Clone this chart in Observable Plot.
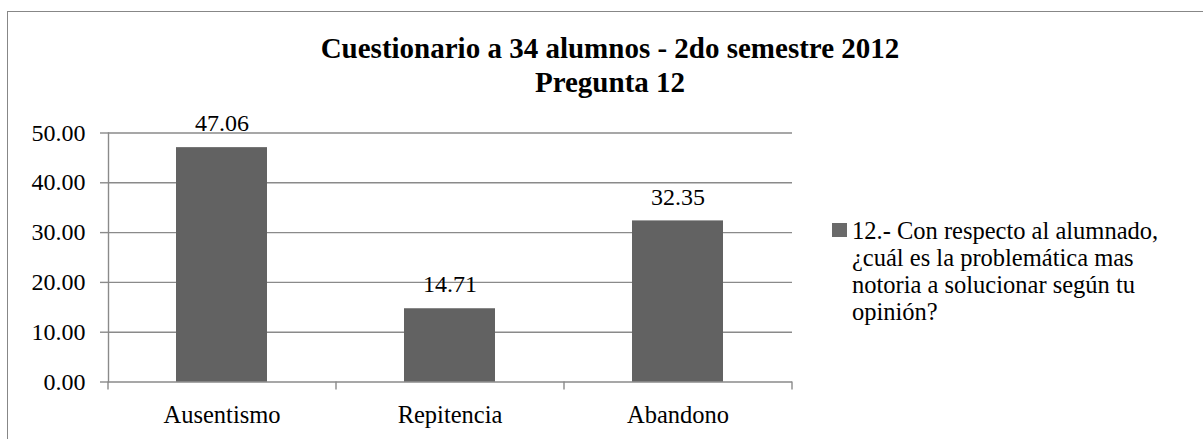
<!DOCTYPE html>
<html>
<head>
<meta charset="utf-8">
<script src="https://cdn.jsdelivr.net/npm/d3@7"></script>
<script src="https://cdn.jsdelivr.net/npm/@observablehq/plot@0.6"></script>
<style>
  html, body { margin: 0; padding: 0; background: #fff; overflow: hidden; }
  #wrap { position: relative; width: 1203px; height: 439px; overflow: hidden; font-family: "Times New Roman", Times, "Liberation Serif", "DejaVu Serif", serif, "Liberation Sans", Arial, sans-serif; color: #000; }
  #border { position: absolute; left: 7px; top: 11px; width: 1400px; height: 600px; border-top: 1.5px solid #878787; border-left: 1.5px solid #878787; }
  #title { position: absolute; left: 0; top: 31px; width: 1220px; text-align: center; font-weight: bold; font-size: 29px; line-height: 34px; }
  #legend { position: absolute; left: 832px; top: 217px; font-size: 24.5px; line-height: 27px; white-space: nowrap; }
  #legend .sw { position: absolute; left: 0; top: 6px; width: 15px; height: 14px; background: #6a6a6a; }
  #legend .tx { position: absolute; left: 20px; top: 0; }
  #chart { position: absolute; left: 0; top: 0; }
</style>
</head>
<body>
<div id="wrap">
  <div id="border"></div>
  <div id="chart"></div>
  <div id="title">Cuestionario a 34 alumnos - 2do semestre 2012<br>Pregunta 12</div>
  <div id="legend"><div class="sw"></div><div class="tx">12.- Con respecto al alumnado,<br>¿cuál es la problemática mas<br>notoria a solucionar según tu<br>opinión?</div></div>
</div>
<script>
const categories = ["Ausentismo", "Repitencia", "Abandono"];
const values = [47.06, 14.71, 32.35];
const yTicks = [0, 10, 20, 30, 40, 50];

const data = categories.map((c, i) => ({cat: c, value: values[i]}));

const W = 1203, H = 439;
const mL = 108, mR = 411, mT = 132.5, mB = 57.5;
const step = (W - mL - mR) / categories.length;
const FONT = '"Times New Roman", Times, "Liberation Serif", "DejaVu Serif", serif, "Liberation Sans", Arial, sans-serif';

const chart = Plot.plot({
  width: W,
  height: H,
  marginLeft: mL,
  marginRight: mR,
  marginTop: mT,
  marginBottom: mB,
  style: {fontFamily: FONT, background: "transparent", color: "#000"},
  x: {type: "band", domain: categories, paddingInner: 0.6, paddingOuter: 0.3, axis: null},
  y: {domain: [0, 50], axis: null},
  marks: [
    Plot.gridY(yTicks, {stroke: "#8a8a8a", strokeOpacity: 1, strokeWidth: 1.4}),
    Plot.frame({anchor: "left", stroke: "#8a8a8a", strokeWidth: 1.4}),
    Plot.axisY({ticks: yTicks, tickSize: 8, tickPadding: 15, tickFormat: d => d.toFixed(2), fontSize: 24, stroke: "#8a8a8a", strokeWidth: 1.4, fill: "#000", label: null}),
    Plot.axisX({tickSize: 8, dx: step / 2, fill: "none", stroke: "#8a8a8a", strokeWidth: 1.4, label: null}),
    Plot.axisX({ticks: [categories[0]], tickSize: 8, dx: -step / 2, fill: "none", stroke: "#8a8a8a", strokeWidth: 1.4, label: null}),
    Plot.axisX({tickSize: 0, tickPadding: 24, fontSize: 24.5, fill: "#000", label: null}),
    Plot.barY(data, {x: "cat", y: "value", fill: "#626262"}),
    Plot.text(data, {x: "cat", y: "value", text: d => d.value.toFixed(2), dy: -24, fontSize: 24, fill: "#000"})
  ]
});
document.getElementById("chart").appendChild(chart);
</script>
</body>
</html>
